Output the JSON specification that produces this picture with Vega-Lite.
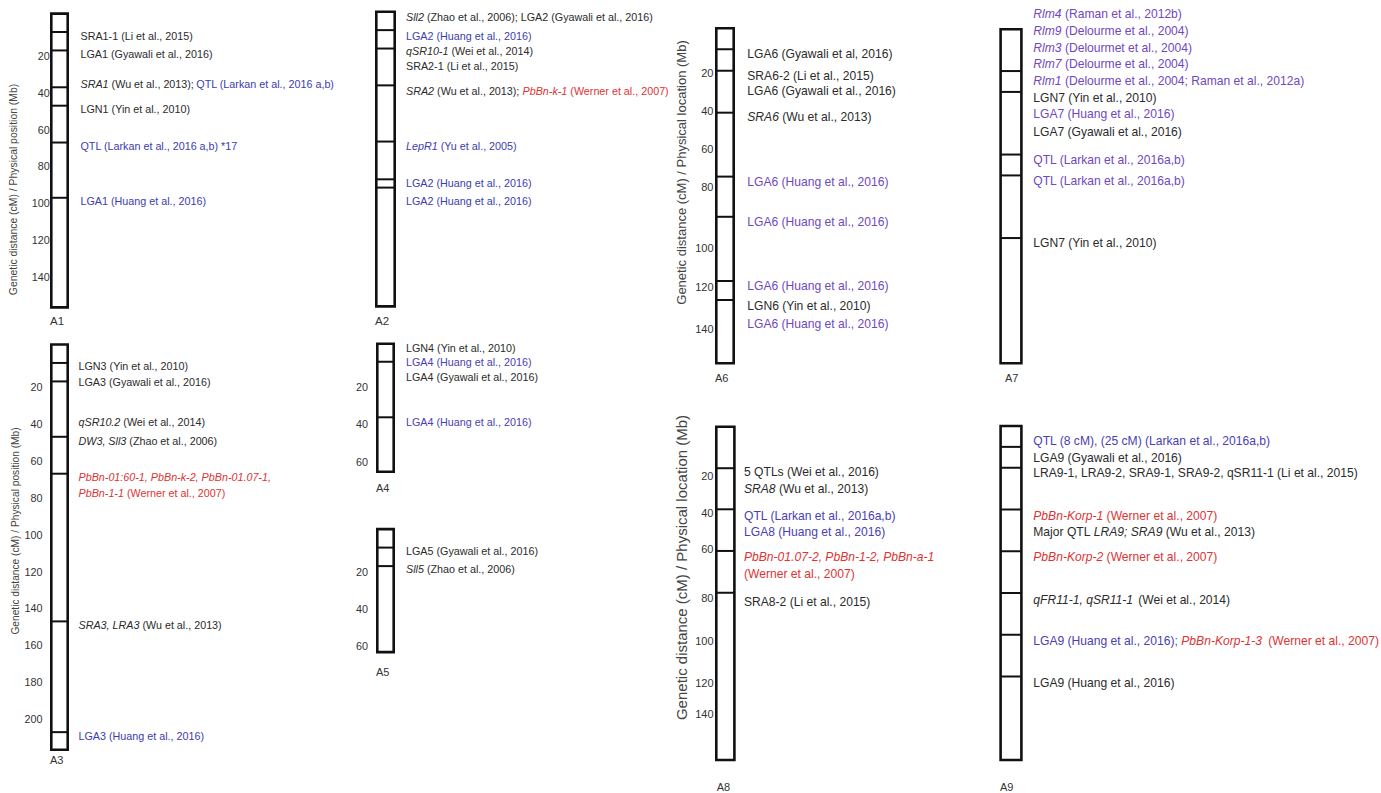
{
"$schema":"https://vega.github.io/schema/vega-lite/v6.json",
"background":"white","padding":0,"spacing":0,
"config":{"view":{"stroke":null},"text":{"font":"Liberation Sans"},"axis":{"labelFont":"Liberation Sans","titleFont":"Liberation Sans"}},
"resolve":{"scale":{"color":"independent"}},
"datasets":{
"chrom":[{"chr":"A1","start":0,"end":159.5},{"chr":"A2","start":0,"end":160},{"chr":"A3","start":0,"end":219.5},{"chr":"A4","start":0,"end":68.4},{"chr":"A5","start":0,"end":66.5},{"chr":"A6","start":0,"end":160},{"chr":"A7","start":0,"end":160},{"chr":"A8","start":0,"end":160},{"chr":"A9","start":0,"end":160}],
"bands":[{"chr":"A1","pos":10},{"chr":"A1","pos":20},{"chr":"A1","pos":40},{"chr":"A1","pos":50},{"chr":"A1","pos":70},{"chr":"A1","pos":100},
{"chr":"A2","pos":10},{"chr":"A2","pos":20},{"chr":"A2","pos":40},{"chr":"A2","pos":70.5},{"chr":"A2","pos":91},{"chr":"A2","pos":95.5},
{"chr":"A3","pos":10},{"chr":"A3","pos":20},{"chr":"A3","pos":50},{"chr":"A3","pos":70},{"chr":"A3","pos":150},{"chr":"A3","pos":210},
{"chr":"A4","pos":9.6},{"chr":"A4","pos":39.3},
{"chr":"A5","pos":10},{"chr":"A5","pos":20},
{"chr":"A6","pos":10.8},{"chr":"A6","pos":21.9},{"chr":"A6","pos":43.8},{"chr":"A6","pos":77.6},{"chr":"A6","pos":91.7},{"chr":"A6","pos":119.8},{"chr":"A6","pos":128.8},
{"chr":"A7","pos":20},{"chr":"A7","pos":30},{"chr":"A7","pos":60},{"chr":"A7","pos":70},{"chr":"A7","pos":100},
{"chr":"A8","pos":19},{"chr":"A8","pos":41.2},{"chr":"A8","pos":63},{"chr":"A8","pos":80.3},
{"chr":"A9","pos":10},{"chr":"A9","pos":20},{"chr":"A9","pos":40},{"chr":"A9","pos":60},{"chr":"A9","pos":80},{"chr":"A9","pos":100},{"chr":"A9","pos":120}],
"labels":[
{"chr":"A1","pos":12.5,"text":"SRA1-1 (Li et al., 2015)","grp":"plain"},
{"chr":"A1","pos":22.5,"text":"LGA1 (Gyawali et al., 2016)","grp":"plain"},
{"chr":"A1","pos":38.8,"text":"SRA1","grp":"plain","kind":"gene"},
{"chr":"A1","pos":38.8,"text":"(Wu et al., 2013);","grp":"plain","after":"SRA1 "},
{"chr":"A1","pos":38.8,"text":"QTL (Larkan et al., 2016 a,b)","grp":"highlight","after":"SRA1 (Wu et al., 2013); "},
{"chr":"A1","pos":52.3,"text":"LGN1 (Yin et al., 2010)","grp":"plain"},
{"chr":"A1","pos":72.3,"text":"QTL (Larkan et al., 2016 a,b) *17","grp":"highlight"},
{"chr":"A1","pos":102.1,"text":"LGA1 (Huang et al., 2016)","grp":"highlight"},
{"chr":"A2","pos":3.6,"text":"Sll2","grp":"plain","kind":"gene"},
{"chr":"A2","pos":3.6,"text":"(Zhao et al., 2006); LGA2 (Gyawali et al., 2016)","grp":"plain","after":"Sll2 "},
{"chr":"A2","pos":13.6,"text":"LGA2 (Huang et al., 2016)","grp":"highlight"},
{"chr":"A2","pos":21.7,"text":"qSR10-1","grp":"plain","kind":"gene"},
{"chr":"A2","pos":21.7,"text":"(Wei et al., 2014)","grp":"plain","after":"qSR10-1 "},
{"chr":"A2","pos":29.9,"text":"SRA2-1 (Li et al., 2015)","grp":"plain"},
{"chr":"A2","pos":43.4,"text":"SRA2","grp":"plain","kind":"gene"},
{"chr":"A2","pos":43.4,"text":"(Wu et al., 2013);","grp":"plain","after":"SRA2 "},
{"chr":"A2","pos":43.4,"text":"PbBn-k-1","grp":"werner","kind":"gene","after":"SRA2 (Wu et al., 2013); "},
{"chr":"A2","pos":43.4,"text":"(Werner et al., 2007)","grp":"werner","after":"SRA2 (Wu et al., 2013); PbBn-k-1 "},
{"chr":"A2","pos":73.3,"text":"LepR1","grp":"highlight","kind":"gene"},
{"chr":"A2","pos":73.3,"text":"(Yu et al., 2005)","grp":"highlight","after":"LepR1 "},
{"chr":"A2","pos":93.5,"text":"LGA2 (Huang et al., 2016)","grp":"highlight"},
{"chr":"A2","pos":103.1,"text":"LGA2 (Huang et al., 2016)","grp":"highlight"},
{"chr":"A3","pos":12.35,"text":"LGN3 (Yin et al., 2010)","grp":"plain"},
{"chr":"A3","pos":21.0,"text":"LGA3 (Gyawali et al., 2016)","grp":"plain"},
{"chr":"A3","pos":42.4,"text":"qSR10.2","grp":"plain","kind":"gene"},
{"chr":"A3","pos":42.4,"text":"(Wei et al., 2014)","grp":"plain","after":"qSR10.2 "},
{"chr":"A3","pos":52.7,"text":"DW3, Sll3","grp":"plain","kind":"gene"},
{"chr":"A3","pos":52.7,"text":"(Zhao et al., 2006)","grp":"plain","after":"DW3, Sll3 "},
{"chr":"A3","pos":72.5,"text":"PbBn-01:60-1, PbBn-k-2, PbBn-01.07-1,","grp":"werner","kind":"gene"},
{"chr":"A3","pos":81.0,"text":"PbBn-1-1","grp":"werner","kind":"gene"},
{"chr":"A3","pos":81.0,"text":"(Werner et al., 2007)","grp":"werner","after":"PbBn-1-1 "},
{"chr":"A3","pos":152.3,"text":"SRA3, LRA3","grp":"plain","kind":"gene"},
{"chr":"A3","pos":152.3,"text":"(Wu et al., 2013)","grp":"plain","after":"SRA3, LRA3 "},
{"chr":"A3","pos":212.5,"text":"LGA3 (Huang et al., 2016)","grp":"highlight"},
{"chr":"A4","pos":2.8,"text":"LGN4 (Yin et al., 2010)","grp":"plain"},
{"chr":"A4","pos":10.4,"text":"LGA4 (Huang et al., 2016)","grp":"highlight"},
{"chr":"A4","pos":18.4,"text":"LGA4 (Gyawali et al., 2016)","grp":"plain"},
{"chr":"A4","pos":42.5,"text":"LGA4 (Huang et al., 2016)","grp":"highlight"},
{"chr":"A5","pos":12.2,"text":"LGA5 (Gyawali et al., 2016)","grp":"plain"},
{"chr":"A5","pos":22.1,"text":"Sll5","grp":"plain","kind":"gene"},
{"chr":"A5","pos":22.1,"text":"(Zhao et al., 2006)","grp":"plain","after":"Sll5 "},
{"chr":"A6","pos":13.2,"text":"LGA6 (Gyawali et al, 2016)","grp":"plain"},
{"chr":"A6","pos":24.6,"text":"SRA6-2 (Li et al., 2015)","grp":"plain"},
{"chr":"A6","pos":32.3,"text":"LGA6 (Gyawali et al., 2016)","grp":"plain"},
{"chr":"A6","pos":46.2,"text":"SRA6","grp":"plain","kind":"gene"},
{"chr":"A6","pos":46.2,"text":"(Wu et al., 2013)","grp":"plain","after":"SRA6 "},
{"chr":"A6","pos":80.2,"text":"LGA6 (Huang et al., 2016)","grp":"highlight"},
{"chr":"A6","pos":93.5,"text":"LGA6 (Huang et al., 2016)","grp":"highlight"},
{"chr":"A6","pos":122.3,"text":"LGA6 (Huang et al., 2016)","grp":"highlight"},
{"chr":"A6","pos":131.5,"text":"LGN6 (Yin et al., 2010)","grp":"plain"},
{"chr":"A6","pos":140.1,"text":"LGA6 (Huang et al., 2016)","grp":"highlight"},
{"chr":"A7","pos":-7.3,"text":"Rlm4","grp":"highlight","kind":"gene"},
{"chr":"A7","pos":-7.3,"text":"(Raman et al., 2012b)","grp":"highlight","after":"Rlm4 "},
{"chr":"A7","pos":0.8,"text":"Rlm9","grp":"highlight","kind":"gene"},
{"chr":"A7","pos":0.8,"text":"(Delourme et al., 2004)","grp":"highlight","after":"Rlm9 "},
{"chr":"A7","pos":8.8,"text":"Rlm3","grp":"highlight","kind":"gene"},
{"chr":"A7","pos":8.8,"text":"(Delourmet et al., 2004)","grp":"highlight","after":"Rlm3 "},
{"chr":"A7","pos":16.8,"text":"Rlm7","grp":"highlight","kind":"gene"},
{"chr":"A7","pos":16.8,"text":"(Delourme et al., 2004)","grp":"highlight","after":"Rlm7 "},
{"chr":"A7","pos":24.8,"text":"Rlm1","grp":"highlight","kind":"gene"},
{"chr":"A7","pos":24.8,"text":"(Delourme et al., 2004; Raman et al., 2012a)","grp":"highlight","after":"Rlm1 "},
{"chr":"A7","pos":32.8,"text":"LGN7 (Yin et al., 2010)","grp":"plain"},
{"chr":"A7","pos":40.7,"text":"LGA7 (Huang et al., 2016)","grp":"highlight"},
{"chr":"A7","pos":49.1,"text":"LGA7 (Gyawali et al., 2016)","grp":"plain"},
{"chr":"A7","pos":62.6,"text":"QTL (Larkan et al., 2016a,b)","grp":"highlight"},
{"chr":"A7","pos":72.7,"text":"QTL (Larkan et al., 2016a,b)","grp":"highlight"},
{"chr":"A7","pos":102.5,"text":"LGN7 (Yin et al., 2010)","grp":"plain"},
{"chr":"A8","pos":20.7,"text":"5 QTLs (Wei et al., 2016)","grp":"plain"},
{"chr":"A8","pos":30.3,"text":"SRA8","grp":"plain","kind":"gene"},
{"chr":"A8","pos":30.3,"text":"(Wu et al., 2013)","grp":"plain","after":"SRA8 "},
{"chr":"A8","pos":44.9,"text":"QTL (Larkan et al., 2016a,b)","grp":"highlight"},
{"chr":"A8","pos":53.8,"text":"LGA8 (Huang et al., 2016)","grp":"highlight"},
{"chr":"A8","pos":65.6,"text":"PbBn-01.07-2, PbBn-1-2, PbBn-a-1","grp":"werner","kind":"gene"},
{"chr":"A8","pos":72.6,"text":"(Werner et al., 2007)","grp":"werner"},
{"chr":"A8","pos":84.4,"text":"SRA8-2 (Li et al., 2015)","grp":"plain"},
{"chr":"A9","pos":7.0,"text":"QTL (8 cM), (25 cM) (Larkan et al., 2016a,b)","grp":"highlight"},
{"chr":"A9","pos":15.5,"text":"LGA9 (Gyawali et al., 2016)","grp":"plain"},
{"chr":"A9","pos":22.7,"text":"LRA9-1, LRA9-2, SRA9-1, SRA9-2, qSR11-1 (Li et al., 2015)","grp":"plain"},
{"chr":"A9","pos":43.0,"text":"PbBn-Korp-1","grp":"werner","kind":"gene"},
{"chr":"A9","pos":43.0,"text":"(Werner et al., 2007)","grp":"werner","after":"PbBn-Korp-1 "},
{"chr":"A9","pos":50.9,"text":"Major QTL","grp":"plain"},
{"chr":"A9","pos":50.9,"text":"LRA9; SRA9","grp":"plain","kind":"gene","after":"Major QTL "},
{"chr":"A9","pos":50.9,"text":"(Wu et al., 2013)","grp":"plain","after":"Major QTL LRA9; SRA9 "},
{"chr":"A9","pos":62.6,"text":"PbBn-Korp-2","grp":"werner","kind":"gene"},
{"chr":"A9","pos":62.6,"text":"(Werner et al., 2007)","grp":"werner","after":"PbBn-Korp-2 "},
{"chr":"A9","pos":83.4,"text":"qFR11-1, qSR11-1","grp":"plain","kind":"gene"},
{"chr":"A9","pos":83.4,"text":"(Wei et al., 2014)","grp":"plain","after":"qFR11-1, qSR11-1 "},
{"chr":"A9","pos":102.8,"text":"LGA9 (Huang et al., 2016);","grp":"highlight"},
{"chr":"A9","pos":102.8,"text":"PbBn-Korp-1-3","grp":"werner","kind":"gene","after":"LGA9 (Huang et al., 2016); "},
{"chr":"A9","pos":102.8,"text":"(Werner et al., 2007)","grp":"werner","after":"LGA9 (Huang et al., 2016); PbBn-Korp-1-3 "},
{"chr":"A9","pos":123.0,"text":"LGA9 (Huang et al., 2016)","grp":"plain"}
]},
"hconcat":[
{"vconcat":[
 {"width":354,"height":330,"layer":[
  {"data":{"name":"chrom"},"transform":[{"filter":"datum.chr == 'A1'"}],"mark":{"type":"rect","fill":"white","stroke":"#111","strokeWidth":2.6},
   "encoding":{"x":{"datum":51.3,"type":"quantitative","scale":{"domain":[0,354],"nice":false,"zero":false},"axis":null},"x2":{"datum":67.7},
   "y":{"field":"start","type":"quantitative","scale":{"domain":[0,160],"range":[13.6,308.3],"nice":false,"zero":false},"axis":{"values":[20,40,60,80,100,120,140],"ticks":false,"domain":false,"grid":false,"offset":-50,"labelPadding":0.7,"labelBaseline":"top","labelFlush":false,"labelOverlap":false,"labelFontSize":10.8,"labelColor":"#333","title":"Genetic distance (cM) / Physical position (Mb)","titleFontSize":10.4,"titleFontWeight":"normal","titleColor":"#444","titleAngle":-90,"titleBaseline":"middle","titleAlign":"center","titleX":-36.5,"titleY":189}},"y2":{"field":"end"}}},
  {"data":{"name":"bands"},"transform":[{"filter":"datum.chr == 'A1'"}],"mark":{"type":"rule","stroke":"#111","strokeWidth":2},
   "encoding":{"x":{"datum":51.3,"type":"quantitative","scale":{"domain":[0,354],"nice":false,"zero":false},"axis":null},"x2":{"datum":67.7},
   "y":{"field":"pos","type":"quantitative","scale":{"domain":[0,160],"range":[13.6,308.3],"nice":false,"zero":false},"axis":{"values":[20,40,60,80,100,120,140],"ticks":false,"domain":false,"grid":false,"offset":-50,"labelPadding":0.7,"labelBaseline":"top","labelFlush":false,"labelOverlap":false,"labelFontSize":10.8,"labelColor":"#333","title":"Genetic distance (cM) / Physical position (Mb)","titleFontSize":10.4,"titleFontWeight":"normal","titleColor":"#444","titleAngle":-90,"titleBaseline":"middle","titleAlign":"center","titleX":-36.5,"titleY":189}}}},
  {"data":{"name":"labels"},"transform":[{"filter":"datum.chr == 'A1'"}],
   "mark":{"type":"text","align":"left","baseline":"middle","fontSize":10.75,"fontStyle":{"expr":"datum.kind == 'gene' ? 'italic' : 'normal'"},"dx":{"expr":"[31.1,115.8,20.9,45.4,31.1,116.5,164.3,34.7,44.8,50.8,48.4,63.9,20.9,35.0,31.6,31.6,31.6,31.6,31.6,35.0,73.3,73.3,60.5,132.5,104.9,148.0,235][indexof(['SRA1 ','SRA1 (Wu et al., 2013); ','Sll2 ','qSR10-1 ','SRA2 ','SRA2 (Wu et al., 2013); ','SRA2 (Wu et al., 2013); PbBn-k-1 ','LepR1 ','qSR10.2 ','DW3, Sll3 ','PbBn-1-1 ','SRA3, LRA3 ','Sll5 ','SRA6 ','Rlm4 ','Rlm9 ','Rlm3 ','Rlm7 ','Rlm1 ','SRA8 ','PbBn-Korp-1 ','PbBn-Korp-2 ','Major QTL ','Major QTL LRA9; SRA9 ','qFR11-1, qSR11-1 ','LGA9 (Huang et al., 2016); ','LGA9 (Huang et al., 2016); PbBn-Korp-1-3 '], datum.after)] || 0"}},
   "encoding":{"x":{"datum":80.5,"type":"quantitative","scale":{"domain":[0,354],"nice":false,"zero":false},"axis":null},
   "y":{"field":"pos","type":"quantitative","scale":{"domain":[0,160],"range":[13.6,308.3],"nice":false,"zero":false},"axis":{"values":[20,40,60,80,100,120,140],"ticks":false,"domain":false,"grid":false,"offset":-50,"labelPadding":0.7,"labelBaseline":"top","labelFlush":false,"labelOverlap":false,"labelFontSize":10.8,"labelColor":"#333","title":"Genetic distance (cM) / Physical position (Mb)","titleFontSize":10.4,"titleFontWeight":"normal","titleColor":"#444","titleAngle":-90,"titleBaseline":"middle","titleAlign":"center","titleX":-36.5,"titleY":189}},
   "text":{"field":"text"},
   "color":{"field":"grp","type":"nominal","scale":{"domain":["plain","highlight","werner"],"range":["#2b2b2b","#3c3cae","#dd3333"]},"legend":null}}},
  {"data":{"name":"chrom"},"transform":[{"filter":"datum.chr == 'A1'"}],"mark":{"type":"text","align":"left","baseline":"middle","dy":15,"fontSize":11.5,"color":"#333"},
   "encoding":{"x":{"datum":50,"type":"quantitative","scale":{"domain":[0,354],"nice":false,"zero":false},"axis":null},
   "y":{"field":"end","type":"quantitative","scale":{"domain":[0,160],"range":[13.6,308.3],"nice":false,"zero":false},"axis":{"values":[20,40,60,80,100,120,140],"ticks":false,"domain":false,"grid":false,"offset":-50,"labelPadding":0.7,"labelBaseline":"top","labelFlush":false,"labelOverlap":false,"labelFontSize":10.8,"labelColor":"#333","title":"Genetic distance (cM) / Physical position (Mb)","titleFontSize":10.4,"titleFontWeight":"normal","titleColor":"#444","titleAngle":-90,"titleBaseline":"middle","titleAlign":"center","titleX":-36.5,"titleY":189}},
   "text":{"field":"chr"}}}
 ]},
 {"width":354,"height":463,"layer":[
  {"data":{"name":"chrom"},"transform":[{"filter":"datum.chr == 'A3'"}],"mark":{"type":"rect","fill":"white","stroke":"#111","strokeWidth":2.6},
   "encoding":{"x":{"datum":51.3,"type":"quantitative","scale":{"domain":[0,354],"nice":false,"zero":false},"axis":null},"x2":{"datum":67.7},
   "y":{"field":"start","type":"quantitative","scale":{"domain":[0,220],"range":[14.5,420.6],"nice":false,"zero":false},"axis":{"values":[20,40,60,80,100,120,140,160,180,200],"ticks":false,"domain":false,"grid":false,"offset":-50,"labelPadding":8,"labelBaseline":"top","labelFlush":false,"labelOverlap":false,"labelFontSize":10.8,"labelColor":"#333","title":"Genetic distance (cM) / Physical position (Mb)","titleFontSize":10.2,"titleFontWeight":"normal","titleColor":"#444","titleAngle":-90,"titleBaseline":"middle","titleAlign":"center","titleX":-35,"titleY":200.5}},"y2":{"field":"end"}}},
  {"data":{"name":"bands"},"transform":[{"filter":"datum.chr == 'A3'"}],"mark":{"type":"rule","stroke":"#111","strokeWidth":2},
   "encoding":{"x":{"datum":51.3,"type":"quantitative","scale":{"domain":[0,354],"nice":false,"zero":false},"axis":null},"x2":{"datum":67.7},
   "y":{"field":"pos","type":"quantitative","scale":{"domain":[0,220],"range":[14.5,420.6],"nice":false,"zero":false},"axis":{"values":[20,40,60,80,100,120,140,160,180,200],"ticks":false,"domain":false,"grid":false,"offset":-50,"labelPadding":8,"labelBaseline":"top","labelFlush":false,"labelOverlap":false,"labelFontSize":10.8,"labelColor":"#333","title":"Genetic distance (cM) / Physical position (Mb)","titleFontSize":10.2,"titleFontWeight":"normal","titleColor":"#444","titleAngle":-90,"titleBaseline":"middle","titleAlign":"center","titleX":-35,"titleY":200.5}}}},
  {"data":{"name":"labels"},"transform":[{"filter":"datum.chr == 'A3'"}],
   "mark":{"type":"text","align":"left","baseline":"middle","fontSize":10.75,"fontStyle":{"expr":"datum.kind == 'gene' ? 'italic' : 'normal'"},"dx":{"expr":"[31.1,115.8,20.9,45.4,31.1,116.5,164.3,34.7,44.8,50.8,48.4,63.9,20.9,35.0,31.6,31.6,31.6,31.6,31.6,35.0,73.3,73.3,60.5,132.5,104.9,148.0,235][indexof(['SRA1 ','SRA1 (Wu et al., 2013); ','Sll2 ','qSR10-1 ','SRA2 ','SRA2 (Wu et al., 2013); ','SRA2 (Wu et al., 2013); PbBn-k-1 ','LepR1 ','qSR10.2 ','DW3, Sll3 ','PbBn-1-1 ','SRA3, LRA3 ','Sll5 ','SRA6 ','Rlm4 ','Rlm9 ','Rlm3 ','Rlm7 ','Rlm1 ','SRA8 ','PbBn-Korp-1 ','PbBn-Korp-2 ','Major QTL ','Major QTL LRA9; SRA9 ','qFR11-1, qSR11-1 ','LGA9 (Huang et al., 2016); ','LGA9 (Huang et al., 2016); PbBn-Korp-1-3 '], datum.after)] || 0"}},
   "encoding":{"x":{"datum":78.5,"type":"quantitative","scale":{"domain":[0,354],"nice":false,"zero":false},"axis":null},
   "y":{"field":"pos","type":"quantitative","scale":{"domain":[0,220],"range":[14.5,420.6],"nice":false,"zero":false},"axis":{"values":[20,40,60,80,100,120,140,160,180,200],"ticks":false,"domain":false,"grid":false,"offset":-50,"labelPadding":8,"labelBaseline":"top","labelFlush":false,"labelOverlap":false,"labelFontSize":10.8,"labelColor":"#333","title":"Genetic distance (cM) / Physical position (Mb)","titleFontSize":10.2,"titleFontWeight":"normal","titleColor":"#444","titleAngle":-90,"titleBaseline":"middle","titleAlign":"center","titleX":-35,"titleY":200.5}},
   "text":{"field":"text"},
   "color":{"field":"grp","type":"nominal","scale":{"domain":["plain","highlight","werner"],"range":["#2b2b2b","#3c3cae","#dd3333"]},"legend":null}}},
  {"data":{"name":"chrom"},"transform":[{"filter":"datum.chr == 'A3'"}],"mark":{"type":"text","align":"left","baseline":"middle","dy":11,"fontSize":11,"color":"#333"},
   "encoding":{"x":{"datum":50,"type":"quantitative","scale":{"domain":[0,354],"nice":false,"zero":false},"axis":null},
   "y":{"field":"end","type":"quantitative","scale":{"domain":[0,220],"range":[14.5,420.6],"nice":false,"zero":false},"axis":{"values":[20,40,60,80,100,120,140,160,180,200],"ticks":false,"domain":false,"grid":false,"offset":-50,"labelPadding":8,"labelBaseline":"top","labelFlush":false,"labelOverlap":false,"labelFontSize":10.8,"labelColor":"#333","title":"Genetic distance (cM) / Physical position (Mb)","titleFontSize":10.2,"titleFontWeight":"normal","titleColor":"#444","titleAngle":-90,"titleBaseline":"middle","titleAlign":"center","titleX":-35,"titleY":200.5}},
   "text":{"field":"chr"}}}
 ]}
],"spacing":0,"resolve":{"scale":{"color":"independent"}}},
{"vconcat":[
 {"width":316,"height":330,"layer":[
  {"data":{"name":"chrom"},"transform":[{"filter":"datum.chr == 'A2'"}],"mark":{"type":"rect","fill":"white","stroke":"#111","strokeWidth":2.6},
   "encoding":{"x":{"datum":22.3,"type":"quantitative","scale":{"domain":[0,316],"nice":false,"zero":false},"axis":null},"x2":{"datum":40.7},
   "y":{"field":"start","type":"quantitative","scale":{"domain":[0,160],"range":[11.7,306.4],"nice":false,"zero":false},"axis":null},"y2":{"field":"end"}}},
  {"data":{"name":"bands"},"transform":[{"filter":"datum.chr == 'A2'"}],"mark":{"type":"rule","stroke":"#111","strokeWidth":2},
   "encoding":{"x":{"datum":22.3,"type":"quantitative","scale":{"domain":[0,316],"nice":false,"zero":false},"axis":null},"x2":{"datum":40.7},
   "y":{"field":"pos","type":"quantitative","scale":{"domain":[0,160],"range":[11.7,306.4],"nice":false,"zero":false},"axis":null}}},
  {"data":{"name":"labels"},"transform":[{"filter":"datum.chr == 'A2'"}],
   "mark":{"type":"text","align":"left","baseline":"middle","fontSize":10.75,"fontStyle":{"expr":"datum.kind == 'gene' ? 'italic' : 'normal'"},"dx":{"expr":"[31.1,115.8,20.9,45.4,31.1,116.5,164.3,34.7,44.8,50.8,48.4,63.9,20.9,35.0,31.6,31.6,31.6,31.6,31.6,35.0,73.3,73.3,60.5,132.5,104.9,148.0,235][indexof(['SRA1 ','SRA1 (Wu et al., 2013); ','Sll2 ','qSR10-1 ','SRA2 ','SRA2 (Wu et al., 2013); ','SRA2 (Wu et al., 2013); PbBn-k-1 ','LepR1 ','qSR10.2 ','DW3, Sll3 ','PbBn-1-1 ','SRA3, LRA3 ','Sll5 ','SRA6 ','Rlm4 ','Rlm9 ','Rlm3 ','Rlm7 ','Rlm1 ','SRA8 ','PbBn-Korp-1 ','PbBn-Korp-2 ','Major QTL ','Major QTL LRA9; SRA9 ','qFR11-1, qSR11-1 ','LGA9 (Huang et al., 2016); ','LGA9 (Huang et al., 2016); PbBn-Korp-1-3 '], datum.after)] || 0"}},
   "encoding":{"x":{"datum":52,"type":"quantitative","scale":{"domain":[0,316],"nice":false,"zero":false},"axis":null},
   "y":{"field":"pos","type":"quantitative","scale":{"domain":[0,160],"range":[11.7,306.4],"nice":false,"zero":false},"axis":null},
   "text":{"field":"text"},
   "color":{"field":"grp","type":"nominal","scale":{"domain":["plain","highlight","werner"],"range":["#2b2b2b","#3c3cae","#dd3333"]},"legend":null}}},
  {"data":{"name":"chrom"},"transform":[{"filter":"datum.chr == 'A2'"}],"mark":{"type":"text","align":"left","baseline":"middle","dy":16,"fontSize":11.5,"color":"#333"},
   "encoding":{"x":{"datum":21,"type":"quantitative","scale":{"domain":[0,316],"nice":false,"zero":false},"axis":null},
   "y":{"field":"end","type":"quantitative","scale":{"domain":[0,160],"range":[11.7,306.4],"nice":false,"zero":false},"axis":null},
   "text":{"field":"chr"}}}
 ]},
 {"width":316,"height":175,"layer":[
  {"data":{"name":"chrom"},"transform":[{"filter":"datum.chr == 'A4'"}],"mark":{"type":"rect","fill":"white","stroke":"#111","strokeWidth":2.6},
   "encoding":{"x":{"datum":23.3,"type":"quantitative","scale":{"domain":[0,316],"nice":false,"zero":false},"axis":null},"x2":{"datum":39.7},
   "y":{"field":"start","type":"quantitative","scale":{"domain":[0,70],"range":[13.8,144.7],"nice":false,"zero":false},"axis":{"values":[20,40,60],"ticks":false,"domain":false,"grid":false,"offset":-22,"labelPadding":8.5,"labelBaseline":"top","labelFlush":false,"labelOverlap":false,"labelFontSize":10.8,"labelColor":"#333","title":null}},"y2":{"field":"end"}}},
  {"data":{"name":"bands"},"transform":[{"filter":"datum.chr == 'A4'"}],"mark":{"type":"rule","stroke":"#111","strokeWidth":2},
   "encoding":{"x":{"datum":23.3,"type":"quantitative","scale":{"domain":[0,316],"nice":false,"zero":false},"axis":null},"x2":{"datum":39.7},
   "y":{"field":"pos","type":"quantitative","scale":{"domain":[0,70],"range":[13.8,144.7],"nice":false,"zero":false},"axis":{"values":[20,40,60],"ticks":false,"domain":false,"grid":false,"offset":-22,"labelPadding":8.5,"labelBaseline":"top","labelFlush":false,"labelOverlap":false,"labelFontSize":10.8,"labelColor":"#333","title":null}}}},
  {"data":{"name":"labels"},"transform":[{"filter":"datum.chr == 'A4'"}],
   "mark":{"type":"text","align":"left","baseline":"middle","fontSize":10.75,"fontStyle":{"expr":"datum.kind == 'gene' ? 'italic' : 'normal'"}},
   "encoding":{"x":{"datum":52,"type":"quantitative","scale":{"domain":[0,316],"nice":false,"zero":false},"axis":null},
   "y":{"field":"pos","type":"quantitative","scale":{"domain":[0,70],"range":[13.8,144.7],"nice":false,"zero":false},"axis":{"values":[20,40,60],"ticks":false,"domain":false,"grid":false,"offset":-22,"labelPadding":8.5,"labelBaseline":"top","labelFlush":false,"labelOverlap":false,"labelFontSize":10.8,"labelColor":"#333","title":null}},
   "text":{"field":"text"},
   "color":{"field":"grp","type":"nominal","scale":{"domain":["plain","highlight","werner"],"range":["#2b2b2b","#4a40b4","#dd3333"]},"legend":null}}},
  {"data":{"name":"chrom"},"transform":[{"filter":"datum.chr == 'A4'"}],"mark":{"type":"text","align":"left","baseline":"middle","dy":17.3,"fontSize":11,"color":"#333"},
   "encoding":{"x":{"datum":22,"type":"quantitative","scale":{"domain":[0,316],"nice":false,"zero":false},"axis":null},
   "y":{"field":"end","type":"quantitative","scale":{"domain":[0,70],"range":[13.8,144.7],"nice":false,"zero":false},"axis":{"values":[20,40,60],"ticks":false,"domain":false,"grid":false,"offset":-22,"labelPadding":8.5,"labelBaseline":"top","labelFlush":false,"labelOverlap":false,"labelFontSize":10.8,"labelColor":"#333","title":null}},
   "text":{"field":"chr"}}}
 ]},
 {"width":316,"height":288,"layer":[
  {"data":{"name":"chrom"},"transform":[{"filter":"datum.chr == 'A5'"}],"mark":{"type":"rect","fill":"white","stroke":"#111","strokeWidth":2.6},
   "encoding":{"x":{"datum":23.3,"type":"quantitative","scale":{"domain":[0,316],"nice":false,"zero":false},"axis":null},"x2":{"datum":39.7},
   "y":{"field":"start","type":"quantitative","scale":{"domain":[0,70],"range":[24.1,153.6],"nice":false,"zero":false},"axis":{"values":[20,40,60],"ticks":false,"domain":false,"grid":false,"offset":-22,"labelPadding":8.5,"labelBaseline":"top","labelFlush":false,"labelOverlap":false,"labelFontSize":10.8,"labelColor":"#333","title":null}},"y2":{"field":"end"}}},
  {"data":{"name":"bands"},"transform":[{"filter":"datum.chr == 'A5'"}],"mark":{"type":"rule","stroke":"#111","strokeWidth":2},
   "encoding":{"x":{"datum":23.3,"type":"quantitative","scale":{"domain":[0,316],"nice":false,"zero":false},"axis":null},"x2":{"datum":39.7},
   "y":{"field":"pos","type":"quantitative","scale":{"domain":[0,70],"range":[24.1,153.6],"nice":false,"zero":false},"axis":{"values":[20,40,60],"ticks":false,"domain":false,"grid":false,"offset":-22,"labelPadding":8.5,"labelBaseline":"top","labelFlush":false,"labelOverlap":false,"labelFontSize":10.8,"labelColor":"#333","title":null}}}},
  {"data":{"name":"labels"},"transform":[{"filter":"datum.chr == 'A5'"}],
   "mark":{"type":"text","align":"left","baseline":"middle","fontSize":10.75,"fontStyle":{"expr":"datum.kind == 'gene' ? 'italic' : 'normal'"},"dx":{"expr":"[31.1,115.8,20.9,45.4,31.1,116.5,164.3,34.7,44.8,50.8,48.4,63.9,20.9,35.0,31.6,31.6,31.6,31.6,31.6,35.0,73.3,73.3,60.5,132.5,104.9,148.0,235][indexof(['SRA1 ','SRA1 (Wu et al., 2013); ','Sll2 ','qSR10-1 ','SRA2 ','SRA2 (Wu et al., 2013); ','SRA2 (Wu et al., 2013); PbBn-k-1 ','LepR1 ','qSR10.2 ','DW3, Sll3 ','PbBn-1-1 ','SRA3, LRA3 ','Sll5 ','SRA6 ','Rlm4 ','Rlm9 ','Rlm3 ','Rlm7 ','Rlm1 ','SRA8 ','PbBn-Korp-1 ','PbBn-Korp-2 ','Major QTL ','Major QTL LRA9; SRA9 ','qFR11-1, qSR11-1 ','LGA9 (Huang et al., 2016); ','LGA9 (Huang et al., 2016); PbBn-Korp-1-3 '], datum.after)] || 0"}},
   "encoding":{"x":{"datum":52,"type":"quantitative","scale":{"domain":[0,316],"nice":false,"zero":false},"axis":null},
   "y":{"field":"pos","type":"quantitative","scale":{"domain":[0,70],"range":[24.1,153.6],"nice":false,"zero":false},"axis":{"values":[20,40,60],"ticks":false,"domain":false,"grid":false,"offset":-22,"labelPadding":8.5,"labelBaseline":"top","labelFlush":false,"labelOverlap":false,"labelFontSize":10.8,"labelColor":"#333","title":null}},
   "text":{"field":"text"},
   "color":{"field":"grp","type":"nominal","scale":{"domain":["plain","highlight","werner"],"range":["#2b2b2b","#3c3cae","#dd3333"]},"legend":null}}},
  {"data":{"name":"chrom"},"transform":[{"filter":"datum.chr == 'A5'"}],"mark":{"type":"text","align":"left","baseline":"middle","dy":20.6,"fontSize":11,"color":"#333"},
   "encoding":{"x":{"datum":22,"type":"quantitative","scale":{"domain":[0,316],"nice":false,"zero":false},"axis":null},
   "y":{"field":"end","type":"quantitative","scale":{"domain":[0,70],"range":[24.1,153.6],"nice":false,"zero":false},"axis":{"values":[20,40,60],"ticks":false,"domain":false,"grid":false,"offset":-22,"labelPadding":8.5,"labelBaseline":"top","labelFlush":false,"labelOverlap":false,"labelFontSize":10.8,"labelColor":"#333","title":null}},
   "text":{"field":"chr"}}}
 ]}
],"spacing":0,"resolve":{"scale":{"color":"independent"}}},
{"vconcat":[
 {"width":320,"height":400,"layer":[
  {"data":{"name":"chrom"},"transform":[{"filter":"datum.chr == 'A6'"}],"mark":{"type":"rect","fill":"white","stroke":"#111","strokeWidth":2.6},
   "encoding":{"x":{"datum":46.3,"type":"quantitative","scale":{"domain":[0,320],"nice":false,"zero":false},"axis":null},"x2":{"datum":63.7},
   "y":{"field":"start","type":"quantitative","scale":{"domain":[0,20,40,60,80,100,120,140,160],"range":[28.3,67.1,105.4,143.7,181.1,242.1,281.4,323.7,363.3],"nice":false,"zero":false},"axis":{"values":[20,40,60,80,100,120,140],"ticks":false,"domain":false,"grid":false,"offset":-45,"labelPadding":2,"labelBaseline":"top","labelFlush":false,"labelOverlap":false,"labelFontSize":11,"labelColor":"#333","title":"Genetic distance (cM) / Physical location (Mb)","titleFontSize":13,"titleFontWeight":"normal","titleColor":"#444","titleAngle":-90,"titleBaseline":"middle","titleAlign":"center","titleX":-34,"titleY":172}},"y2":{"field":"end"}}},
  {"data":{"name":"bands"},"transform":[{"filter":"datum.chr == 'A6'"}],"mark":{"type":"rule","stroke":"#111","strokeWidth":2},
   "encoding":{"x":{"datum":46.3,"type":"quantitative","scale":{"domain":[0,320],"nice":false,"zero":false},"axis":null},"x2":{"datum":63.7},
   "y":{"field":"pos","type":"quantitative","scale":{"domain":[0,20,40,60,80,100,120,140,160],"range":[28.3,67.1,105.4,143.7,181.1,242.1,281.4,323.7,363.3],"nice":false,"zero":false},"axis":{"values":[20,40,60,80,100,120,140],"ticks":false,"domain":false,"grid":false,"offset":-45,"labelPadding":2,"labelBaseline":"top","labelFlush":false,"labelOverlap":false,"labelFontSize":11,"labelColor":"#333","title":"Genetic distance (cM) / Physical location (Mb)","titleFontSize":13,"titleFontWeight":"normal","titleColor":"#444","titleAngle":-90,"titleBaseline":"middle","titleAlign":"center","titleX":-34,"titleY":172}}}},
  {"data":{"name":"labels"},"transform":[{"filter":"datum.chr == 'A6'"}],
   "mark":{"type":"text","align":"left","baseline":"middle","fontSize":12.1,"fontStyle":{"expr":"datum.kind == 'gene' ? 'italic' : 'normal'"},"dx":{"expr":"[31.1,115.8,20.9,45.4,31.1,116.5,164.3,34.7,44.8,50.8,48.4,63.9,20.9,35.0,31.6,31.6,31.6,31.6,31.6,35.0,73.3,73.3,60.5,132.5,104.9,148.0,235][indexof(['SRA1 ','SRA1 (Wu et al., 2013); ','Sll2 ','qSR10-1 ','SRA2 ','SRA2 (Wu et al., 2013); ','SRA2 (Wu et al., 2013); PbBn-k-1 ','LepR1 ','qSR10.2 ','DW3, Sll3 ','PbBn-1-1 ','SRA3, LRA3 ','Sll5 ','SRA6 ','Rlm4 ','Rlm9 ','Rlm3 ','Rlm7 ','Rlm1 ','SRA8 ','PbBn-Korp-1 ','PbBn-Korp-2 ','Major QTL ','Major QTL LRA9; SRA9 ','qFR11-1, qSR11-1 ','LGA9 (Huang et al., 2016); ','LGA9 (Huang et al., 2016); PbBn-Korp-1-3 '], datum.after)] || 0"}},
   "encoding":{"x":{"datum":77.3,"type":"quantitative","scale":{"domain":[0,320],"nice":false,"zero":false},"axis":null},
   "y":{"field":"pos","type":"quantitative","scale":{"domain":[0,20,40,60,80,100,120,140,160],"range":[28.3,67.1,105.4,143.7,181.1,242.1,281.4,323.7,363.3],"nice":false,"zero":false},"axis":{"values":[20,40,60,80,100,120,140],"ticks":false,"domain":false,"grid":false,"offset":-45,"labelPadding":2,"labelBaseline":"top","labelFlush":false,"labelOverlap":false,"labelFontSize":11,"labelColor":"#333","title":"Genetic distance (cM) / Physical location (Mb)","titleFontSize":13,"titleFontWeight":"normal","titleColor":"#444","titleAngle":-90,"titleBaseline":"middle","titleAlign":"center","titleX":-34,"titleY":172}},
   "text":{"field":"text"},
   "color":{"field":"grp","type":"nominal","scale":{"domain":["plain","highlight","werner"],"range":["#2b2b2b","#7048c0","#dd3333"]},"legend":null}}},
  {"data":{"name":"chrom"},"transform":[{"filter":"datum.chr == 'A6'"}],"mark":{"type":"text","align":"left","baseline":"middle","dy":15.7,"fontSize":11,"color":"#333"},
   "encoding":{"x":{"datum":45,"type":"quantitative","scale":{"domain":[0,320],"nice":false,"zero":false},"axis":null},
   "y":{"field":"end","type":"quantitative","scale":{"domain":[0,20,40,60,80,100,120,140,160],"range":[28.3,67.1,105.4,143.7,181.1,242.1,281.4,323.7,363.3],"nice":false,"zero":false},"axis":{"values":[20,40,60,80,100,120,140],"ticks":false,"domain":false,"grid":false,"offset":-45,"labelPadding":2,"labelBaseline":"top","labelFlush":false,"labelOverlap":false,"labelFontSize":11,"labelColor":"#333","title":"Genetic distance (cM) / Physical location (Mb)","titleFontSize":13,"titleFontWeight":"normal","titleColor":"#444","titleAngle":-90,"titleBaseline":"middle","titleAlign":"center","titleX":-34,"titleY":172}},
   "text":{"field":"chr"}}}
 ]},
 {"width":320,"height":393,"layer":[
  {"data":{"name":"chrom"},"transform":[{"filter":"datum.chr == 'A8'"}],"mark":{"type":"rect","fill":"white","stroke":"#111","strokeWidth":2.6},
   "encoding":{"x":{"datum":46.3,"type":"quantitative","scale":{"domain":[0,320],"nice":false,"zero":false},"axis":null},"x2":{"datum":64.4},
   "y":{"field":"start","type":"quantitative","scale":{"domain":[0,20,40,60,80,100,120,140,160],"range":[26.7,70.4,107.1,143.7,192.1,235.4,277.1,308.7,360],"nice":false,"zero":false},"axis":{"values":[20,40,60,80,100,120,140],"ticks":false,"domain":false,"grid":false,"offset":-45,"labelPadding":2,"labelBaseline":"top","labelFlush":false,"labelOverlap":false,"labelFontSize":11,"labelColor":"#333","title":"Genetic distance (cM) / Physical location (Mb)","titleFontSize":15,"titleFontWeight":"normal","titleColor":"#444","titleAngle":-90,"titleBaseline":"middle","titleAlign":"center","titleX":-34,"titleY":167}},"y2":{"field":"end"}}},
  {"data":{"name":"bands"},"transform":[{"filter":"datum.chr == 'A8'"}],"mark":{"type":"rule","stroke":"#111","strokeWidth":2},
   "encoding":{"x":{"datum":46.3,"type":"quantitative","scale":{"domain":[0,320],"nice":false,"zero":false},"axis":null},"x2":{"datum":64.4},
   "y":{"field":"pos","type":"quantitative","scale":{"domain":[0,20,40,60,80,100,120,140,160],"range":[26.7,70.4,107.1,143.7,192.1,235.4,277.1,308.7,360],"nice":false,"zero":false},"axis":{"values":[20,40,60,80,100,120,140],"ticks":false,"domain":false,"grid":false,"offset":-45,"labelPadding":2,"labelBaseline":"top","labelFlush":false,"labelOverlap":false,"labelFontSize":11,"labelColor":"#333","title":"Genetic distance (cM) / Physical location (Mb)","titleFontSize":15,"titleFontWeight":"normal","titleColor":"#444","titleAngle":-90,"titleBaseline":"middle","titleAlign":"center","titleX":-34,"titleY":167}}}},
  {"data":{"name":"labels"},"transform":[{"filter":"datum.chr == 'A8'"}],
   "mark":{"type":"text","align":"left","baseline":"middle","fontSize":12.1,"fontStyle":{"expr":"datum.kind == 'gene' ? 'italic' : 'normal'"},"dx":{"expr":"[31.1,115.8,20.9,45.4,31.1,116.5,164.3,34.7,44.8,50.8,48.4,63.9,20.9,35.0,31.6,31.6,31.6,31.6,31.6,35.0,73.3,73.3,60.5,132.5,104.9,148.0,235][indexof(['SRA1 ','SRA1 (Wu et al., 2013); ','Sll2 ','qSR10-1 ','SRA2 ','SRA2 (Wu et al., 2013); ','SRA2 (Wu et al., 2013); PbBn-k-1 ','LepR1 ','qSR10.2 ','DW3, Sll3 ','PbBn-1-1 ','SRA3, LRA3 ','Sll5 ','SRA6 ','Rlm4 ','Rlm9 ','Rlm3 ','Rlm7 ','Rlm1 ','SRA8 ','PbBn-Korp-1 ','PbBn-Korp-2 ','Major QTL ','Major QTL LRA9; SRA9 ','qFR11-1, qSR11-1 ','LGA9 (Huang et al., 2016); ','LGA9 (Huang et al., 2016); PbBn-Korp-1-3 '], datum.after)] || 0"}},
   "encoding":{"x":{"datum":74,"type":"quantitative","scale":{"domain":[0,320],"nice":false,"zero":false},"axis":null},
   "y":{"field":"pos","type":"quantitative","scale":{"domain":[0,20,40,60,80,100,120,140,160],"range":[26.7,70.4,107.1,143.7,192.1,235.4,277.1,308.7,360],"nice":false,"zero":false},"axis":{"values":[20,40,60,80,100,120,140],"ticks":false,"domain":false,"grid":false,"offset":-45,"labelPadding":2,"labelBaseline":"top","labelFlush":false,"labelOverlap":false,"labelFontSize":11,"labelColor":"#333","title":"Genetic distance (cM) / Physical location (Mb)","titleFontSize":15,"titleFontWeight":"normal","titleColor":"#444","titleAngle":-90,"titleBaseline":"middle","titleAlign":"center","titleX":-34,"titleY":167}},
   "text":{"field":"text"},
   "color":{"field":"grp","type":"nominal","scale":{"domain":["plain","highlight","werner"],"range":["#2b2b2b","#4a40b4","#dd3333"]},"legend":null}}},
  {"data":{"name":"chrom"},"transform":[{"filter":"datum.chr == 'A8'"}],"mark":{"type":"text","align":"left","baseline":"middle","dy":28,"fontSize":11,"color":"#333"},
   "encoding":{"x":{"datum":46.7,"type":"quantitative","scale":{"domain":[0,320],"nice":false,"zero":false},"axis":null},
   "y":{"field":"end","type":"quantitative","scale":{"domain":[0,20,40,60,80,100,120,140,160],"range":[26.7,70.4,107.1,143.7,192.1,235.4,277.1,308.7,360],"nice":false,"zero":false},"axis":{"values":[20,40,60,80,100,120,140],"ticks":false,"domain":false,"grid":false,"offset":-45,"labelPadding":2,"labelBaseline":"top","labelFlush":false,"labelOverlap":false,"labelFontSize":11,"labelColor":"#333","title":"Genetic distance (cM) / Physical location (Mb)","titleFontSize":15,"titleFontWeight":"normal","titleColor":"#444","titleAngle":-90,"titleBaseline":"middle","titleAlign":"center","titleX":-34,"titleY":167}},
   "text":{"field":"chr"}}}
 ]}
],"spacing":0,"resolve":{"scale":{"color":"independent"}}},
{"vconcat":[
 {"width":391,"height":400,"layer":[
  {"data":{"name":"chrom"},"transform":[{"filter":"datum.chr == 'A7'"}],"mark":{"type":"rect","fill":"white","stroke":"#111","strokeWidth":2.6},
   "encoding":{"x":{"datum":10.6,"type":"quantitative","scale":{"domain":[0,391],"nice":false,"zero":false},"axis":null},"x2":{"datum":31.4},
   "y":{"field":"start","type":"quantitative","scale":{"domain":[0,160],"range":[29.3,363.3],"nice":false,"zero":false},"axis":null},"y2":{"field":"end"}}},
  {"data":{"name":"bands"},"transform":[{"filter":"datum.chr == 'A7'"}],"mark":{"type":"rule","stroke":"#111","strokeWidth":2},
   "encoding":{"x":{"datum":10.6,"type":"quantitative","scale":{"domain":[0,391],"nice":false,"zero":false},"axis":null},"x2":{"datum":31.4},
   "y":{"field":"pos","type":"quantitative","scale":{"domain":[0,160],"range":[29.3,363.3],"nice":false,"zero":false},"axis":null}}},
  {"data":{"name":"labels"},"transform":[{"filter":"datum.chr == 'A7'"}],
   "mark":{"type":"text","align":"left","baseline":"middle","fontSize":12.1,"fontStyle":{"expr":"datum.kind == 'gene' ? 'italic' : 'normal'"},"dx":{"expr":"[31.1,115.8,20.9,45.4,31.1,116.5,164.3,34.7,44.8,50.8,48.4,63.9,20.9,35.0,31.6,31.6,31.6,31.6,31.6,35.0,73.3,73.3,60.5,132.5,104.9,148.0,235][indexof(['SRA1 ','SRA1 (Wu et al., 2013); ','Sll2 ','qSR10-1 ','SRA2 ','SRA2 (Wu et al., 2013); ','SRA2 (Wu et al., 2013); PbBn-k-1 ','LepR1 ','qSR10.2 ','DW3, Sll3 ','PbBn-1-1 ','SRA3, LRA3 ','Sll5 ','SRA6 ','Rlm4 ','Rlm9 ','Rlm3 ','Rlm7 ','Rlm1 ','SRA8 ','PbBn-Korp-1 ','PbBn-Korp-2 ','Major QTL ','Major QTL LRA9; SRA9 ','qFR11-1, qSR11-1 ','LGA9 (Huang et al., 2016); ','LGA9 (Huang et al., 2016); PbBn-Korp-1-3 '], datum.after)] || 0"}},
   "encoding":{"x":{"datum":43.3,"type":"quantitative","scale":{"domain":[0,391],"nice":false,"zero":false},"axis":null},
   "y":{"field":"pos","type":"quantitative","scale":{"domain":[0,160],"range":[29.3,363.3],"nice":false,"zero":false},"axis":null},
   "text":{"field":"text"},
   "color":{"field":"grp","type":"nominal","scale":{"domain":["plain","highlight","werner"],"range":["#2b2b2b","#7048c0","#dd3333"]},"legend":null}}},
  {"data":{"name":"chrom"},"transform":[{"filter":"datum.chr == 'A7'"}],"mark":{"type":"text","align":"left","baseline":"middle","dy":15.7,"fontSize":11,"color":"#333"},
   "encoding":{"x":{"datum":15,"type":"quantitative","scale":{"domain":[0,391],"nice":false,"zero":false},"axis":null},
   "y":{"field":"end","type":"quantitative","scale":{"domain":[0,160],"range":[29.3,363.3],"nice":false,"zero":false},"axis":null},
   "text":{"field":"chr"}}}
 ]},
 {"width":391,"height":393,"layer":[
  {"data":{"name":"chrom"},"transform":[{"filter":"datum.chr == 'A9'"}],"mark":{"type":"rect","fill":"white","stroke":"#111","strokeWidth":2.6},
   "encoding":{"x":{"datum":10.6,"type":"quantitative","scale":{"domain":[0,391],"nice":false,"zero":false},"axis":null},"x2":{"datum":31.4},
   "y":{"field":"start","type":"quantitative","scale":{"domain":[0,160],"range":[26,360],"nice":false,"zero":false},"axis":null},"y2":{"field":"end"}}},
  {"data":{"name":"bands"},"transform":[{"filter":"datum.chr == 'A9'"}],"mark":{"type":"rule","stroke":"#111","strokeWidth":2},
   "encoding":{"x":{"datum":10.6,"type":"quantitative","scale":{"domain":[0,391],"nice":false,"zero":false},"axis":null},"x2":{"datum":31.4},
   "y":{"field":"pos","type":"quantitative","scale":{"domain":[0,160],"range":[26,360],"nice":false,"zero":false},"axis":null}}},
  {"data":{"name":"labels"},"transform":[{"filter":"datum.chr == 'A9'"}],
   "mark":{"type":"text","align":"left","baseline":"middle","fontSize":12.1,"fontStyle":{"expr":"datum.kind == 'gene' ? 'italic' : 'normal'"},"dx":{"expr":"[31.1,115.8,20.9,45.4,31.1,116.5,164.3,34.7,44.8,50.8,48.4,63.9,20.9,35.0,31.6,31.6,31.6,31.6,31.6,35.0,73.3,73.3,60.5,132.5,104.9,148.0,235][indexof(['SRA1 ','SRA1 (Wu et al., 2013); ','Sll2 ','qSR10-1 ','SRA2 ','SRA2 (Wu et al., 2013); ','SRA2 (Wu et al., 2013); PbBn-k-1 ','LepR1 ','qSR10.2 ','DW3, Sll3 ','PbBn-1-1 ','SRA3, LRA3 ','Sll5 ','SRA6 ','Rlm4 ','Rlm9 ','Rlm3 ','Rlm7 ','Rlm1 ','SRA8 ','PbBn-Korp-1 ','PbBn-Korp-2 ','Major QTL ','Major QTL LRA9; SRA9 ','qFR11-1, qSR11-1 ','LGA9 (Huang et al., 2016); ','LGA9 (Huang et al., 2016); PbBn-Korp-1-3 '], datum.after)] || 0"}},
   "encoding":{"x":{"datum":43.3,"type":"quantitative","scale":{"domain":[0,391],"nice":false,"zero":false},"axis":null},
   "y":{"field":"pos","type":"quantitative","scale":{"domain":[0,160],"range":[26,360],"nice":false,"zero":false},"axis":null},
   "text":{"field":"text"},
   "color":{"field":"grp","type":"nominal","scale":{"domain":["plain","highlight","werner"],"range":["#2b2b2b","#4a40b4","#dd3333"]},"legend":null}}},
  {"data":{"name":"chrom"},"transform":[{"filter":"datum.chr == 'A9'"}],"mark":{"type":"text","align":"left","baseline":"middle","dy":28,"fontSize":11,"color":"#333"},
   "encoding":{"x":{"datum":10,"type":"quantitative","scale":{"domain":[0,391],"nice":false,"zero":false},"axis":null},
   "y":{"field":"end","type":"quantitative","scale":{"domain":[0,160],"range":[26,360],"nice":false,"zero":false},"axis":null},
   "text":{"field":"chr"}}}
 ]}
],"spacing":0,"resolve":{"scale":{"color":"independent"}}}
]
}
